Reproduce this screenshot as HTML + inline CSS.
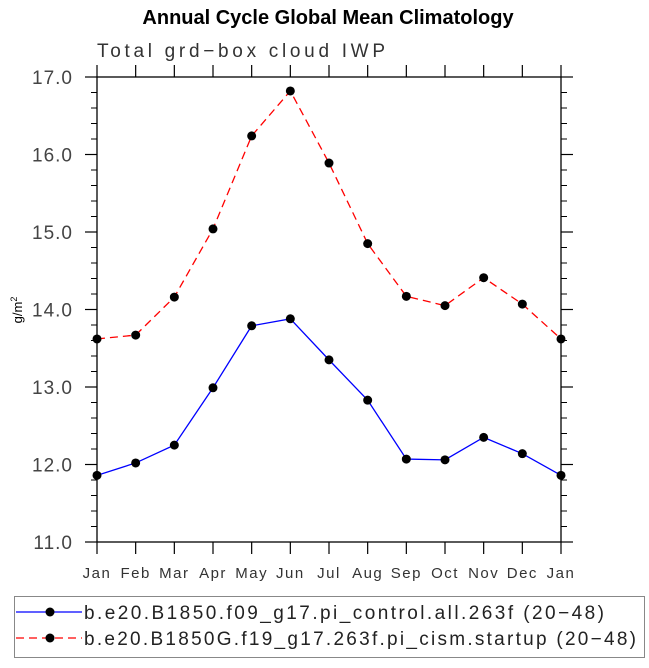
<!DOCTYPE html>
<html><head><meta charset="utf-8"><style>
body{margin:0;background:#fff;width:649px;height:663px;overflow:hidden}
text{font-family:"Liberation Sans",sans-serif}
</style></head><body>
<svg id="chart" width="649" height="663" xmlns="http://www.w3.org/2000/svg">
<text x="328" y="24" text-anchor="middle" font-size="20" font-weight="bold">Annual Cycle Global Mean Climatology</text>
<text x="97" y="57" font-size="19" fill="#333" textLength="288" lengthAdjust="spacing">Total grd−box cloud IWP</text>
<text transform="translate(22,310) rotate(-90)" text-anchor="middle" font-size="13">g/m<tspan dy="-5" font-size="9">2</tspan></text>
<g id="axes"></g>
<g id="series"></g>
<rect x="14.5" y="596.5" width="630" height="61" fill="none" stroke="#888" stroke-width="1"/>
<g>
<line x1="16" y1="612" x2="82" y2="612" stroke="#00f" stroke-width="1.3"/><circle cx="50" cy="612" r="4.5" fill="#000"/>
<text x="84" y="619" font-size="19" fill="#222" textLength="520" lengthAdjust="spacing">b.e20.B1850.f09_g17.pi_control.all.263f (20−48)</text></g>
<g>
<line x1="16" y1="638" x2="82" y2="638" stroke="#f00" stroke-width="1.3" stroke-dasharray="8,5"/><circle cx="50" cy="638" r="4.5" fill="#000"/>
<text x="84" y="645" font-size="19" fill="#222" textLength="552" lengthAdjust="spacing">b.e20.B1850G.f19_g17.263f.pi_cism.startup (20−48)</text></g>
</svg>
<script>
const months=["Jan","Feb","Mar","Apr","May","Jun","Jul","Aug","Sep","Oct","Nov","Dec","Jan"];
const controlVals=[11.86,12.02,12.25,12.99,13.79,13.88,13.35,12.83,12.07,12.06,12.35,12.14,11.86];
const cismVals=[13.62,13.67,14.16,15.04,16.24,16.82,15.89,14.85,14.17,14.05,14.41,14.07,13.62];
const yTicks=[11,12,13,14,15,16,17];
const yTickLabels=["11.0","12.0","13.0","14.0","15.0","16.0","17.0"];
const L=97,R=561,T=77,B=542,ymin=11,ymax=17;
const NS="http://www.w3.org/2000/svg";
const xs=i=>L+i*(R-L)/(months.length-1);
const ys=v=>B-(v-ymin)/(ymax-ymin)*(B-T);
function mk(tag,attrs,parent){const e=document.createElementNS(NS,tag);for(const k in attrs)e.setAttribute(k,attrs[k]);parent.appendChild(e);return e;}
const ax=document.getElementById('axes');
const frame=mk('rect',{x:L,y:T,width:R-L,height:B-T,fill:'none',stroke:'#000','stroke-width':1.3},ax);


months.forEach((m,i)=>{const x=xs(i);
mk('line',{x1:x,y1:B,x2:x,y2:B+12,stroke:'#000','stroke-width':1.2},ax);
mk('line',{x1:x,y1:T,x2:x,y2:T-12,stroke:'#000','stroke-width':1.2},ax);
const t=mk('text',{x:x,y:578,'text-anchor':'middle','font-size':15,fill:'#333','letter-spacing':'1.5'},ax);t.textContent=m;

});
yTicks.forEach((v,i)=>{const y=ys(v);
mk('line',{x1:L-12,y1:y,x2:L,y2:y,stroke:'#000','stroke-width':1.2},ax);
mk('line',{x1:R,y1:y,x2:R+12,y2:y,stroke:'#000','stroke-width':1.2},ax);
const t=mk('text',{x:L-24,y:y+7,'text-anchor':'end','font-size':19,fill:'#444','letter-spacing':'1'},ax);t.textContent=yTickLabels[i];


if(i<yTicks.length-1)for(let k=1;k<5;k++){const yy=ys(v+k*0.2);
mk('line',{x1:L-6,y1:yy,x2:L,y2:yy,stroke:'#000','stroke-width':1},ax);
mk('line',{x1:R,y1:yy,x2:R+6,y2:yy,stroke:'#000','stroke-width':1},ax);}});
const sg=document.getElementById('series');
function series(vals,color,dash,name){
const pl=mk('polyline',{points:vals.map((v,i)=>xs(i)+','+ys(v)).join(' '),fill:'none',stroke:color,'stroke-width':1.3},sg);
if(dash)pl.setAttribute('stroke-dasharray',dash);


vals.forEach((v,i)=>{const c=mk('circle',{cx:xs(i),cy:ys(v),r:4.5,fill:'#000'},sg);

});}
series(controlVals,'#00f',null,'control');
series(cismVals,'#f00','8,5','cism');
</script>
</body></html>
